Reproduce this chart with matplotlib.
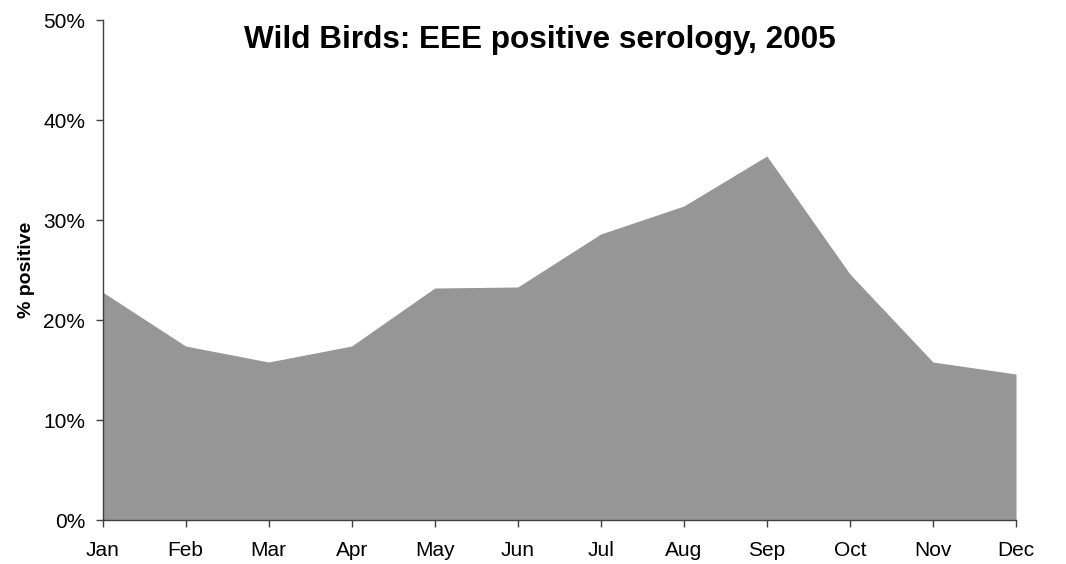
import matplotlib
matplotlib.use('Agg')
from matplotlib import pyplot as plt
from matplotlib.ticker import FuncFormatter
import numpy as np

months = ['Jan', 'Feb', 'Mar', 'Apr', 'May', 'Jun',
          'Jul', 'Aug', 'Sep', 'Oct', 'Nov', 'Dec']
pct_positive = [22.8, 17.4, 15.8, 17.4, 23.2, 23.3,
                28.6, 31.4, 36.4, 24.6, 15.8, 14.6]
y_ticks = [0, 10, 20, 30, 40, 50]

plt.rcParams['font.family'] = ['Liberation Sans', 'DejaVu Sans']

fig = plt.figure(figsize=(10.66, 5.64), dpi=100)
ax = fig.add_axes([102.5 / 1066, 44 / 564, (1016 - 102.5) / 1066, 500 / 564])

x = np.arange(len(months))
ax.fill_between(x, 0, pct_positive, color='#969696', linewidth=0)

ax.set_xlim(0, len(months) - 1)
ax.set_ylim(0, 50)
ax.set_xticks(x)
ax.set_xticklabels(months)
ax.set_yticks(y_ticks)
ax.yaxis.set_major_formatter(FuncFormatter(lambda v, p: f'{v:.0f}%'))

for side in ['top', 'right']:
    ax.spines[side].set_visible(False)
for side in ['left', 'bottom']:
    ax.spines[side].set_color('#404040')
    ax.spines[side].set_linewidth(1)
ax.tick_params(axis='both', direction='out', length=5, width=1,
               color='#404040', labelsize=15, labelcolor='black')
ax.tick_params(axis='x', pad=10)
ax.tick_params(axis='y', pad=7.5)

ax.set_ylabel('% positive', fontsize=14, fontweight='bold', labelpad=6)
fig.text(540 / 1066, 1 - 48 / 564, 'Wild Birds: EEE positive serology, 2005',
         ha='center', va='baseline', fontsize=22.7, fontweight='bold')

fig.savefig('out.png', dpi=100)
